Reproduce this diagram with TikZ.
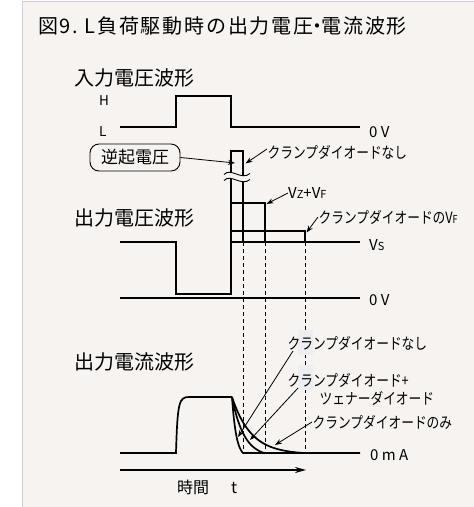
\documentclass[tikz,border=0pt]{standalone}
\usepackage{fontspec}
\setmainfont{Noto Sans CJK JP}
\newfontfamily\jpn[FakeStretch=0.82]{Noto Sans CJK JP}
\newfontfamily\jptitle[LetterSpace=9]{Noto Sans CJK JP}
\usetikzlibrary{arrows.meta}
\definecolor{bg}{HTML}{F6F3F0}
\definecolor{edge}{HTML}{D2CBE2}
\definecolor{patch}{HTML}{ECEEF2}
\tikzset{
  wave/.style={line width=1.7pt, line join=miter},
  thinln/.style={line width=0.9pt},
  dashln/.style={line width=0.9pt, dash pattern=on 4pt off 3pt},
  lbl/.style={inner sep=0.5pt, anchor=west, font=\jpn\fontsize{15.5}{15.5}\selectfont},
  head/.style={inner sep=0pt, anchor=west, font=\fontsize{20}{20}\selectfont},
  lvl/.style={inner sep=0pt, anchor=west, font=\fontsize{15}{15}\selectfont},
  arr/.style={line width=0.8pt, -{Stealth[length=7pt,width=5pt]}}
}
\newcommand{\smallcap}[1]{{\fontsize{11}{11}\selectfont #1}}
\begin{document}
\begin{tikzpicture}[x=1pt,y=-1pt]
\useasboundingbox (0,0) rectangle (474,507);
\fill[bg] (22,1) rectangle (474,507);
\draw[edge, line width=1.5pt] (22.5,507) -- (22.5,1.5) -- (474,1.5);

% title and headings
\node[head, font=\jptitle\fontsize{20}{20}\selectfont] (title) at (38,26)
  {図9\kern1.5pt.\kern6.5pt L負荷駆動時の出力電圧\makebox[8pt]{・}電流波形};
\node[head] (inh) at (74,78) {入力電圧波形};
\node[head] (outvh) at (74,218) {出力電圧波形};
\node[head] (outih) at (74,362) {出力電流波形};

% input waveform
\draw[wave] (120,127) -- (176,127) -- (176,96) -- (231,96) -- (231,127) -- (360,127);
\node[lvl, font=\fontsize{13.5}{13.5}\selectfont] (H) at (99,101) {H};
\node[lvl, font=\fontsize{13.5}{13.5}\selectfont] (L) at (99,132) {L};
\node[lvl] (zv1) at (369,132) {0 V};

% output voltage waveform
\draw[wave] (120,242) -- (176,242) -- (176,294) -- (231,294) -- (231,151) -- (243,151) -- (243,242);
\draw[wave] (231,203) -- (265,203) -- (265,242);
\draw[wave] (231,231) -- (305,231) -- (305,242);
\draw[wave] (231,242) -- (360,242);
\draw[wave] (120,298) -- (360,298);
% break mark
\fill[bg] (224,174.5) .. controls (231,167) and (241,181) .. (250,173.5)
  -- (250,179.5) .. controls (241,187) and (231,173) .. (224,180.5) -- cycle;
\draw[thinln] (224,174.5) .. controls (231,167) and (241,181) .. (250,173.5);
\draw[thinln] (224,180.5) .. controls (231,173) and (241,187) .. (250,179.5);

\node[lvl] (vs) at (369,245) {V\smallcap{S}};
\node[lvl] (zv2) at (369,300) {0 V};

% dashed guides
\draw[dashln] (243,242) -- (243,453);
\draw[dashln] (265,242) -- (265,453);
\draw[dashln] (305,242) -- (305,453);
\fill[patch] (298,330) rectangle (313,355);
\fill[patch] (298,365) rectangle (313,390);

% current waveform
\draw[wave] (120,453) -- (176,453) .. controls (177.5,402) and (179,397) .. (189,397) -- (232,397);
\draw[wave] plot[domain=0:11, samples=40] ({232+\x},{453-56*(exp(-\x/4.3)-exp(-11/4.3))/(1-exp(-11/4.3))}) -- (360,453);
\draw[wave] plot[domain=0:32, samples=60] ({232+\x},{453-56*(exp(-\x/12)-exp(-32/12))/(1-exp(-32/12))});
\draw[wave] plot[domain=0:72, samples=80] ({232+\x},{453-56*(exp(-\x/19)-exp(-72/19))/(1-exp(-72/19))});
\node[lvl] (zma) at (370,455) {0 m A};

% time axis
\coordinate (t0) at (120,470);
\coordinate (t1) at (306,470);
\draw[line width=1.5pt, -{Stealth[length=11pt,width=6pt]}] (t0) -- (t1);
\node[lvl, font=\fontsize{16}{16}\selectfont] (time) at (177,487) {時間\hspace{22pt}t};

% voltage labels
\node[draw, thinln, rounded corners=9pt, minimum width=90pt, minimum height=27pt, inner sep=0pt,
  font=\fontsize{17}{17}\selectfont] (gyaku) at (135,157.5) {逆起電圧};
\coordinate (gtip) at (235,163);
\draw[arr] (gyaku.east) -- (gtip);

\node[lbl] (nashi1) at (267,152) {クランプダイオードなし};
\coordinate (n1tip) at (245.5,163.5);
\draw[arr] (nashi1.west) ++(0,-3) -- (n1tip);

\node[lvl] (vzvf) at (288,193) {V\smallcap{Z}+V\smallcap{F}};
\coordinate (vztip) at (266.5,204);
\draw[arr] (vzvf.west) -- (vztip);

\node[lbl] (vf) at (318,217) {クランプダイオードのV\smallcap{F}};
\coordinate (vftip) at (306.5,232.5);
\draw[arr] (vf.west) -- (vftip);

% current labels
\node[lbl] (nashi2) at (287,343) {クランプダイオードなし};
\coordinate (n2s) at (293,351);
\coordinate (n2tip) at (238,437);
\draw[arr] (n2s) -- (n2tip);

\node[lbl] (cz) at (287,380) {クランプダイオード+};
\node[lbl] (cz2) at (319,398) {ツェナーダイオード};
\coordinate (czs) at (298,388);
\coordinate (cztip) at (250,440);
\draw[arr] (czs) -- (cztip);

\node[lbl] (nomi) at (312,422) {クランプダイオードのみ};
\coordinate (nomitip) at (275,445);
\draw[arr] (nomi.west) -- (nomitip);
\end{tikzpicture}
\end{document}
